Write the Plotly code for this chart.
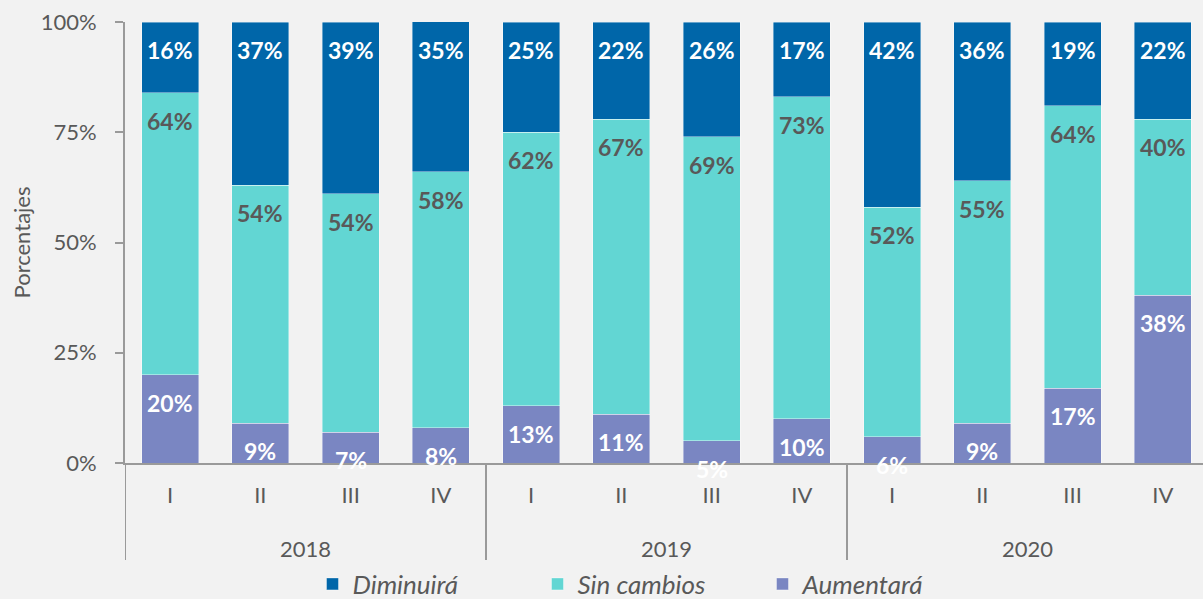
import plotly.graph_objects as go

years = ["2018", "2019", "2020"]
quarters = ["I", "II", "III", "IV"]
categories = [(y, q) for y in years for q in quarters]

aumentara = [20, 9, 7, 8, 13, 11, 5, 10, 6, 9, 17, 38]
sin_cambios = [64, 54, 54, 58, 62, 67, 69, 73, 52, 55, 64, 40]
diminuira = [16, 37, 39, 35, 25, 22, 26, 17, 42, 36, 19, 22]

y_ticks = [0, 25, 50, 75, 100]

C_DIM = "#0066A9"
C_SIN = "#62D6D3"
C_AUM = "#7A86C2"
GRAY_TXT = "#595959"
AXIS = "#9A9A9A"
BG = "#F2F2F2"
FONT = "Lato"

x = list(range(len(categories)))
qt_labels = [c[1] for c in categories]

fig = go.Figure()
series = [("Aumentará", aumentara, C_AUM), ("Sin cambios", sin_cambios, C_SIN), ("Diminuirá", diminuira, C_DIM)]
for name, vals, col in series:
    fig.add_trace(go.Bar(x=x, y=vals, name=name, width=0.63,
                         marker=dict(color=col, line=dict(color="rgba(255,255,255,0.5)", width=0.8)),
                         hoverinfo="skip"))

# data labels: anchored at each segment's top, shifted a fixed distance down
base = [0] * len(x)
label_colors = ["white", GRAY_TXT, "white"]
for (name, vals, col), tc in zip(series, label_colors):
    tops = [min(b + v, 100) for b, v in zip(base, vals)]
    for xi, t, v in zip(x, tops, vals):
        fig.add_annotation(x=xi, y=t, xref="x", yref="y", text=f"{v}%", showarrow=False,
                           yanchor="middle", yshift=-28,
                           font=dict(family=FONT, size=23, color=tc, weight="bold"))
    base = [b + v for b, v in zip(base, vals)]

H = 441.0
def py(px):
    return (463 - px) / H

# year labels and dividers
for i, yname in enumerate(years):
    idx = [k for k, c in enumerate(categories) if c[0] == yname]
    fig.add_annotation(x=sum(idx) / len(idx), y=py(548), xref="x", yref="paper",
                       text=yname, showarrow=False, yanchor="middle",
                       font=dict(family=FONT, size=22, color=GRAY_TXT))
    fig.add_shape(type="line", xref="x", yref="paper", x0=idx[0] - 0.5, x1=idx[0] - 0.5,
                  y0=0, y1=py(560), line=dict(color=AXIS, width=2))
fig.add_shape(type="line", xref="x", yref="paper", x0=len(x) - 0.5, x1=len(x) - 0.5,
              y0=0, y1=py(560), line=dict(color=AXIS, width=2))

fig.update_layout(
    width=1203, height=599,
    barmode="stack",
    paper_bgcolor=BG, plot_bgcolor=BG,
    margin=dict(l=125, r=0, t=22, b=136, autoexpand=False),
    font=dict(family=FONT, color=GRAY_TXT),
    showlegend=True,
    legend=dict(orientation="h", traceorder="reversed", x=0.487, y=py(584),
                xanchor="center", yanchor="middle",
                font=dict(family=FONT, size=26, color=GRAY_TXT, style="italic"),
                entrywidth=180, bgcolor="rgba(0,0,0,0)"),
    xaxis=dict(range=[-0.5, 11.445], tickmode="array", tickvals=x, ticktext=qt_labels,
               showline=True, linecolor=AXIS, linewidth=2, ticks="", showgrid=False,
               zeroline=False, tickfont=dict(family=FONT, size=22, color=GRAY_TXT),
               ticklabelstandoff=12),
    yaxis=dict(range=[0, 100], tickmode="array", tickvals=y_ticks,
               ticktext=[f"{t}%" for t in y_ticks],
               showline=True, linecolor=AXIS, linewidth=2, ticks="outside", ticklen=8,
               tickcolor=AXIS, tickwidth=2, showgrid=False, zeroline=False,
               ticklabelstandoff=14,
               tickfont=dict(family=FONT, size=22, color=GRAY_TXT),
               title=dict(text="Porcentajes", font=dict(family=FONT, size=22, color=GRAY_TXT),
                          standoff=4)),
)

fig.write_html("out.html", config={"displayModeBar": False},
               post_script="document.body.style.margin='0';document.body.style.background='#F2F2F2';"
                           "document.documentElement.style.background='#F2F2F2';")
